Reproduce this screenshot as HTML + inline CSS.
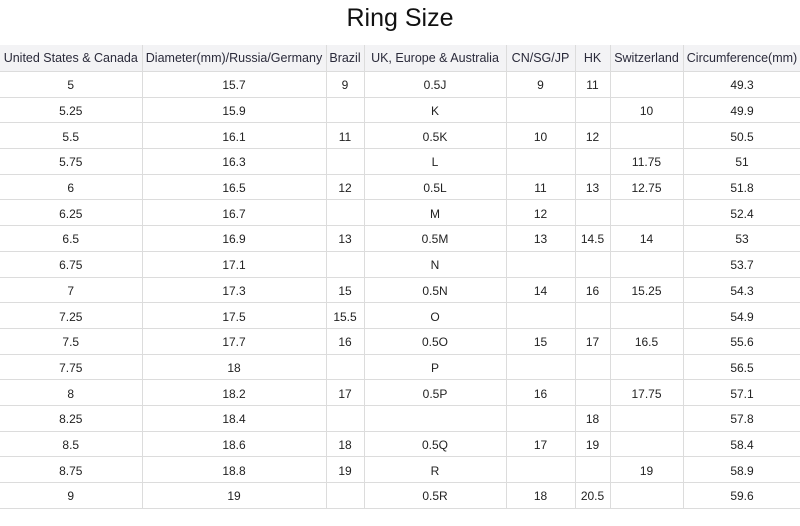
<!DOCTYPE html>
<html><head><meta charset="utf-8"><style>
body{margin:0;width:800px;height:526px;background:#fff;font-family:"Liberation Sans","Noto Sans CJK SC",sans-serif;overflow:hidden;position:relative}
h1{position:absolute;top:4px;left:0;width:800px;text-align:center;margin:0;font-weight:normal;font-size:25px;color:#111}
table{position:absolute;top:45px;left:0;border-collapse:collapse;table-layout:fixed;width:801px}
td{border:1px solid #dcdcdc;text-align:center;font-size:12px;color:#222;padding:2px 0 0 0;height:22.7px;white-space:nowrap;overflow:hidden}
tr.h td{background:#f3f3f5;height:26px;padding:0;color:#2a2a3a;font-size:12.5px}
tr:first-child td{border-top:none}
td:first-child{border-left:none}
</style></head><body>
<h1>Ring Size</h1>
<table>
<colgroup><col style="width:142px"><col style="width:184px"><col style="width:38px"><col style="width:142px"><col style="width:69px"><col style="width:35px"><col style="width:73px"><col style="width:118px"></colgroup>
<tr class="h"><td>United States &amp; Canada</td><td>Diameter(mm)/Russia/Germany</td><td>Brazil</td><td>UK, Europe &amp; Australia</td><td>CN/SG/JP</td><td>HK</td><td>Switzerland</td><td>Circumference(mm)</td></tr>
<tr><td>5</td><td>15.7</td><td>9</td><td>0.5J</td><td>9</td><td>11</td><td></td><td>49.3</td></tr>
<tr><td>5.25</td><td>15.9</td><td></td><td>K</td><td></td><td></td><td>10</td><td>49.9</td></tr>
<tr><td>5.5</td><td>16.1</td><td>11</td><td>0.5K</td><td>10</td><td>12</td><td></td><td>50.5</td></tr>
<tr><td>5.75</td><td>16.3</td><td></td><td>L</td><td></td><td></td><td>11.75</td><td>51</td></tr>
<tr><td>6</td><td>16.5</td><td>12</td><td>0.5L</td><td>11</td><td>13</td><td>12.75</td><td>51.8</td></tr>
<tr><td>6.25</td><td>16.7</td><td></td><td>M</td><td>12</td><td></td><td></td><td>52.4</td></tr>
<tr><td>6.5</td><td>16.9</td><td>13</td><td>0.5M</td><td>13</td><td>14.5</td><td>14</td><td>53</td></tr>
<tr><td>6.75</td><td>17.1</td><td></td><td>N</td><td></td><td></td><td></td><td>53.7</td></tr>
<tr><td>7</td><td>17.3</td><td>15</td><td>0.5N</td><td>14</td><td>16</td><td>15.25</td><td>54.3</td></tr>
<tr><td>7.25</td><td>17.5</td><td>15.5</td><td>O</td><td></td><td></td><td></td><td>54.9</td></tr>
<tr><td>7.5</td><td>17.7</td><td>16</td><td>0.5O</td><td>15</td><td>17</td><td>16.5</td><td>55.6</td></tr>
<tr><td>7.75</td><td>18</td><td></td><td>P</td><td></td><td></td><td></td><td>56.5</td></tr>
<tr><td>8</td><td>18.2</td><td>17</td><td>0.5P</td><td>16</td><td></td><td>17.75</td><td>57.1</td></tr>
<tr><td>8.25</td><td>18.4</td><td></td><td></td><td></td><td>18</td><td></td><td>57.8</td></tr>
<tr><td>8.5</td><td>18.6</td><td>18</td><td>0.5Q</td><td>17</td><td>19</td><td></td><td>58.4</td></tr>
<tr><td>8.75</td><td>18.8</td><td>19</td><td>R</td><td></td><td></td><td>19</td><td>58.9</td></tr>
<tr><td>9</td><td>19</td><td></td><td>0.5R</td><td>18</td><td>20.5</td><td></td><td>59.6</td></tr>
</table>
</body></html>
